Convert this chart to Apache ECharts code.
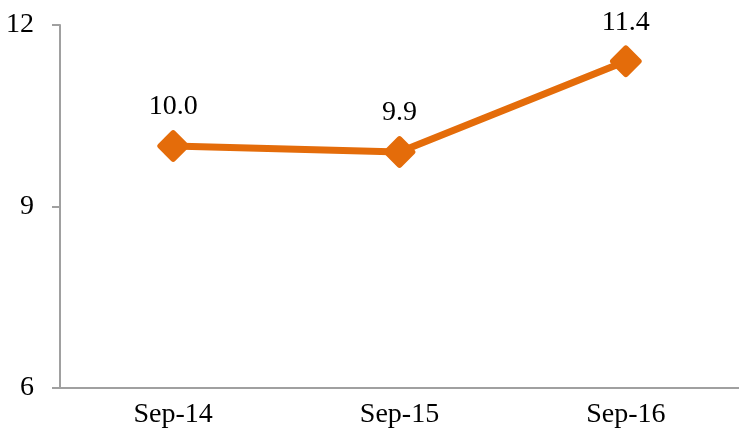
<!DOCTYPE html>
<html>
<head>
<meta charset="utf-8">
<script src="https://cdn.jsdelivr.net/npm/echarts@6/dist/echarts.min.js"></script>
<style>
  html, body { margin: 0; padding: 0; background: #fff; }
  #main { width: 739px; height: 439px; }
</style>
</head>
<body>
<div id="main"></div>
<script>
var categories = ['Sep-14', 'Sep-15', 'Sep-16'];
var values = [10.0, 9.9, 11.4];

var font = '"Liberation Serif", "Times New Roman", serif';
var axisColor = '#a0a0a0';
// diamond with softened corners
var roundDiamond = 'path://M44,6 Q50,0 56,6 L94,44 Q100,50 94,56 L56,94 Q50,100 44,94 L6,56 Q0,50 6,44 Z';

var myChart = echarts.init(document.getElementById('main'));
var option = {
    animation: false,
    grid: { left: 60, width: 683, top: 25, bottom: 51, containLabel: false },
    xAxis: {
        type: 'category',
        data: categories,
        axisLine: { lineStyle: { color: axisColor, width: 2 } },
        axisTick: { length: 7, lineStyle: { color: axisColor, width: 2 } },
        axisLabel: { color: '#000', fontFamily: font, fontSize: 28, margin: 13 }
    },
    yAxis: {
        type: 'value',
        min: 6,
        max: 12,
        interval: 3,
        splitLine: { show: false },
        axisLine: { show: true, lineStyle: { color: axisColor, width: 2 } },
        axisTick: { show: true, length: 8, lineStyle: { color: axisColor, width: 2 } },
        axisLabel: { color: '#000', fontFamily: font, fontSize: 28, margin: 26 }
    },
    series: [
        {
            type: 'line',
            data: values,
            symbol: roundDiamond,
            symbolSize: 32,
            itemStyle: { color: '#E46C0A' },
            lineStyle: { color: '#E46C0A', width: 7 },
            label: {
                show: true,
                position: 'top',
                distance: 9,
                color: '#000',
                fontFamily: font,
                fontSize: 28,
                formatter: function (p) { return p.value.toFixed(1); }
            }
        }
    ]
};
myChart.setOption(option);
</script>
</body>
</html>
